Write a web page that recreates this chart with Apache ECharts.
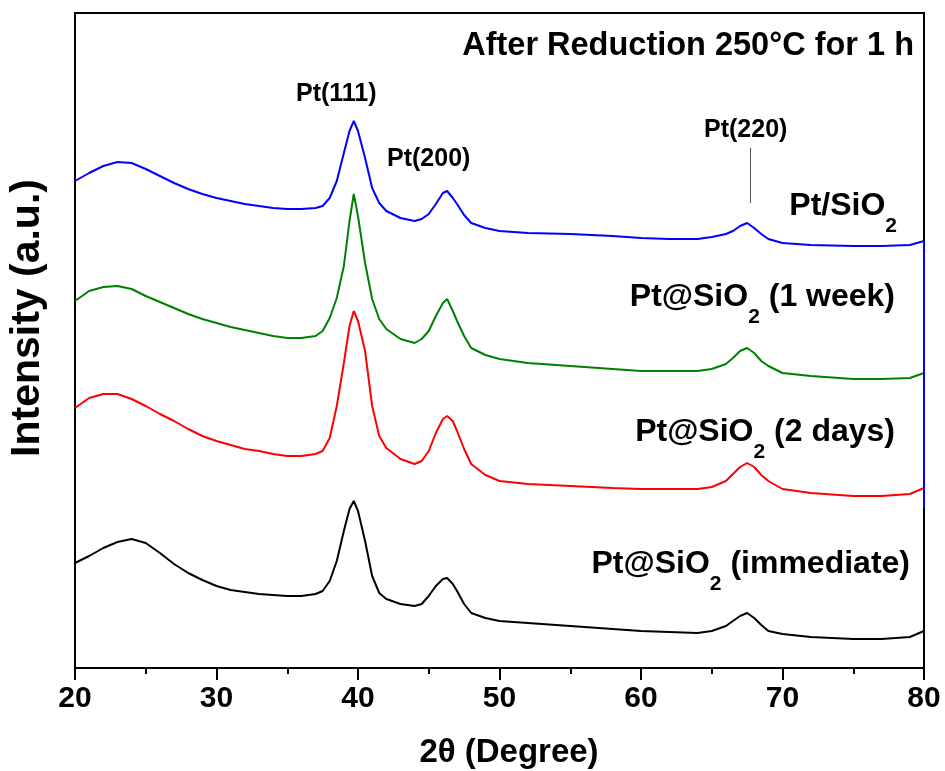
<!DOCTYPE html>
<html>
<head>
<meta charset="utf-8">
<script src="https://cdn.jsdelivr.net/npm/echarts@6/dist/echarts.min.js"></script>
<style>html,body{margin:0;padding:0;background:#fff}#c{width:945px;height:771px}</style>
</head>
<body>
<div id="c"></div>
<script>
// 2θ positions (degrees)
var twoTheta = [20,21,22,23,24,25,26,27,28,29,30,31,32,33,34,35,36,
  37,37.5,38,38.5,39,39.4,39.7,40,40.5,41,41.5,42,
  43,44,44.5,45,45.5,46,46.3,46.7,47,47.5,48,
  49,50,52,55,58,60,62,64,
  65,66,66.5,67,67.5,68,68.5,69,
  70,72,75,77,79,80];
// offset intensities (a.u.)
var ptSiO2 = [487,495,502,506,505,499,492,485,479,474,470,467,464,462,460,459,459,
  460,462,470,487,515,537,547,537,510,480,465,457,
  450,447,449,454,464,475,477,470,464,453,445,
  440,437,435,434,432,430,429,429,
  431,434,437,442,445,440,434,429,
  425,423,422,422,423,427];
var oneWeek = [367,377,381,382,379,372,366,360,354,349,345,341,338,335,332,330,330,
  332,337,350,370,402,447,474,452,405,369,349,339,
  329,325,329,337,352,365,369,357,347,332,320,
  313,309,305,302,299,297,297,297,
  299,304,310,317,320,315,307,302,
  295,292,289,289,290,295];
var twoDays = [260,270,274,274,269,262,254,247,239,232,227,223,219,217,214,212,212,
  214,217,230,262,305,342,357,347,317,262,232,220,
  209,204,207,217,235,249,252,247,237,219,204,
  193,187,184,182,180,179,179,179,
  181,187,194,201,205,201,193,187,
  179,175,172,172,174,180];
var immediate = [105,112,120,126,129,125,115,104,95,88,82,78,76,74,73,72,72,
  74,77,87,107,137,159,167,157,127,92,75,69,
  64,62,64,72,82,89,90,84,77,64,55,
  50,47,45,42,39,37,36,35,
  37,42,47,52,55,50,43,37,
  34,31,29,29,31,37];
var xTicks = [20,30,40,50,60,70,80];
var seriesNames = ['Pt/SiO2','Pt@SiO2 (1 week)','Pt@SiO2 (2 days)','Pt@SiO2 (immediate)'];
var peakLabels = ['Pt(111)','Pt(200)','Pt(220)'];

function pairs(v){ return twoTheta.map(function(x,i){ return [x, v[i]]; }); }

var FF = '"Liberation Sans", Arial, sans-serif';
var chart = echarts.init(document.getElementById('c'));

function subLabel(main, rest, xr, yc){
  return {
    type:'text', right: 945 - xr, top: yc - 18,
    style:{
      text: '{a|' + main + '}{s|2}{a|' + rest + '}',
      fill:'#000',
      rich:{
        a:{fontSize:32, fontWeight:'bold', fontFamily:FF, lineHeight:36, verticalAlign:'top', fill:'#000'},
        s:{fontSize:21, fontWeight:'bold', fontFamily:FF, lineHeight:20, padding:[26,0,0,0], verticalAlign:'top', fill:'#000'}
      }
    }
  };
}

function commonLine(color, data, extra){
  var s = {type:'line', data: pairs(data), showSymbol:false, symbol:'none',
    lineStyle:{color:color, width:2}, itemStyle:{color:color}, animation:false};
  if (extra) for (var k in extra) s[k]=extra[k];
  return s;
}

chart.setOption({
  animation:false,
  grid:{left:75, right:21, top:13, bottom:103, show:true, borderColor:'#000', borderWidth:2},
  xAxis:{type:'value', min:20, max:80, interval:10,
    axisLine:{show:true, lineStyle:{color:'#000', width:2}},
    axisTick:{show:true, inside:false, length:12, lineStyle:{color:'#000', width:2}},
    minorTick:{show:true, splitNumber:2, length:6, lineStyle:{color:'#000', width:2}},
    splitLine:{show:false},
    axisLabel:{color:'#000', fontSize:30, fontWeight:'bold', fontFamily:FF, margin:16,
      formatter:function(v){ return xTicks.indexOf(v) >= 0 ? String(v) : ''; }}
  },
  yAxis:{type:'value', min:0, max:655,
    axisLine:{show:true, lineStyle:{color:'#000', width:2}},
    axisTick:{show:false}, axisLabel:{show:false}, splitLine:{show:false}},
  series:[
    commonLine('#0000ff', ptSiO2, {name:seriesNames[0], markLine:{silent:true, symbol:'none', animation:false, label:{show:false},
      data:[
        [{coord:[67.7,465], lineStyle:{color:'#555', width:1, type:'solid'}},{coord:[67.7,520]}],
        [{coord:[80,427], lineStyle:{color:'#0000ff', width:2, type:'solid'}},{coord:[80,160]}]
      ]}}),
    commonLine('#008000', oneWeek, {name:seriesNames[1]}),
    commonLine('#ff0000', twoDays, {name:seriesNames[2]}),
    commonLine('#000000', immediate, {name:seriesNames[3]})
  ],
  graphic:[
    {type:'text', right:945-914, top:48-18, style:{text:'After Reduction 250°C for 1 h', fontSize:32.5, fontWeight:'bold', fontFamily:FF, fill:'#000'}},
    {type:'text', left:337-41, top:95-13, style:{text:peakLabels[0], fontSize:25, fontWeight:'bold', fontFamily:FF, fill:'#000'}},
    {type:'text', left:431-44, top:160-13, style:{text:peakLabels[1], fontSize:25, fontWeight:'bold', fontFamily:FF, fill:'#000'}},
    {type:'text', left:748-44, top:131-13, style:{text:peakLabels[2], fontSize:25, fontWeight:'bold', fontFamily:FF, fill:'#000'}},
    subLabel('Pt/SiO', '', 897, 208),
    subLabel('Pt@SiO', ' (1 week)', 895, 299),
    subLabel('Pt@SiO', ' (2 days)', 895, 434),
    subLabel('Pt@SiO', ' (immediate)', 910, 566),
    {type:'text', x:28, y:318, rotation:Math.PI/2, style:{text:'Intensity (a.u.)', fontSize:41, fontWeight:'bold', fontFamily:FF, fill:'#000', align:'center', verticalAlign:'middle'}},
    {type:'text', x:509, y:753, style:{text:'2θ (Degree)', fontSize:33, fontWeight:'bold', fontFamily:FF, fill:'#000', align:'center', verticalAlign:'middle'}}
  ]
});
</script>
</body>
</html>
